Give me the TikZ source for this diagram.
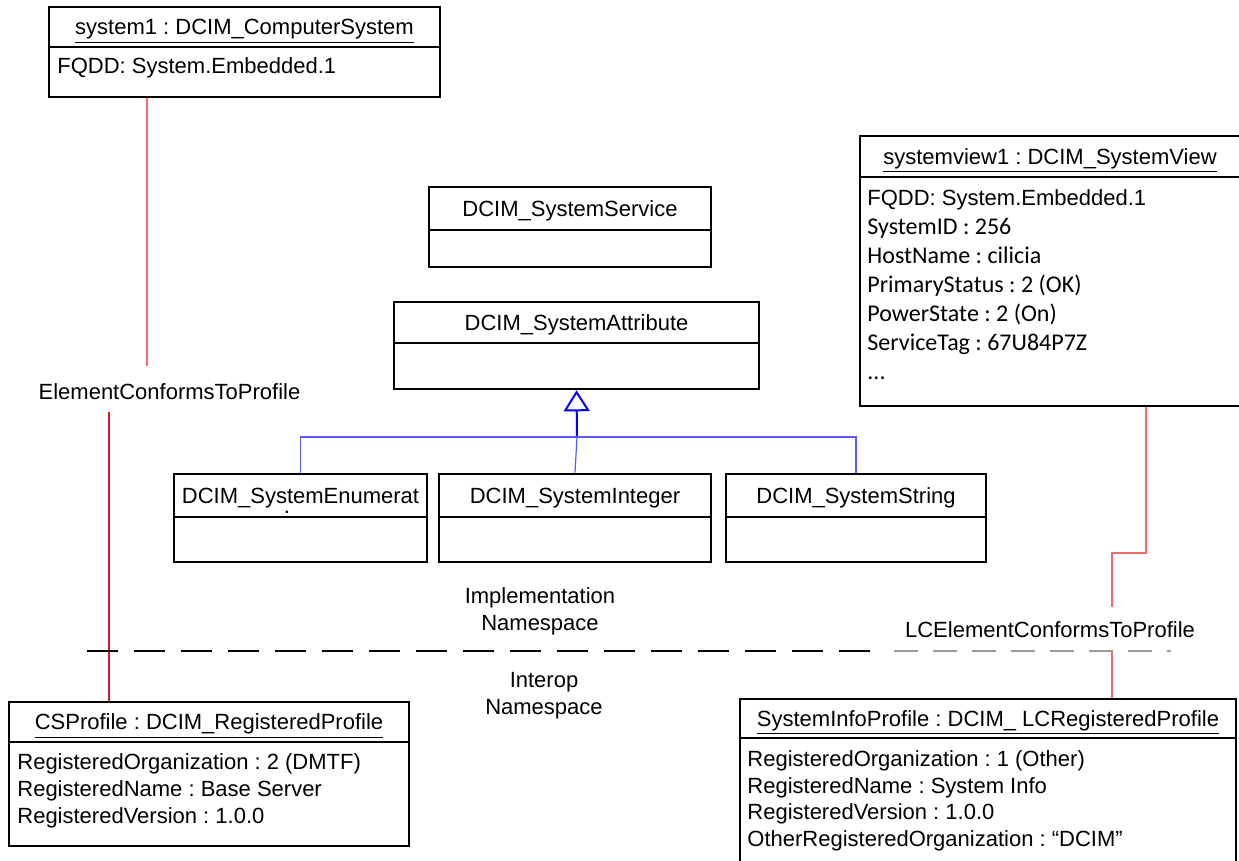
\documentclass[tikz,border=0pt]{standalone}
\usepackage{fontspec}
\setmainfont{Liberation Sans}
\newfontfamily\carlito{Carlito}
\usetikzlibrary{arrows.meta,calc,positioning}
\definecolor{conformLight}{RGB}{250,105,105}
\definecolor{conformDark}{RGB}{215,25,35}
\definecolor{genBlue}{RGB}{0,0,255}
\definecolor{genBranchBlue}{RGB}{90,90,255}
\frenchspacing
\tikzset{
  umlClassHead/.style={draw, line width=1.3pt, inner sep=0pt, text height=7.9pt, text depth=0pt, font=\fontsize{11}{13}\selectfont},
  umlClassBody/.style={draw, line width=1.3pt, inner sep=0pt},
  umlObjHead/.style={draw, line width=0.9pt, inner sep=0pt, text height=7.9pt, text depth=0pt, font=\fontsize{11}{13}\selectfont},
  umlObjBody/.style={draw, line width=0.9pt, inner sep=0pt},
  umlSlots/.style={anchor=north west, align=left, inner sep=0pt, font=\fontsize{11}{13.5}\selectfont},
  umlAssocLabel/.style={inner sep=0pt, text height=7.9pt, text depth=0pt, font=\fontsize{11}{13}\selectfont},
  umlNsLabel/.style={inner sep=0pt, align=center, font=\fontsize{11}{13.5}\selectfont},
  umlConformUp/.style={draw=conformLight, line width=0.6pt},
  umlConformDown/.style={draw=conformDark, line width=0.6pt},
  umlGenArrow/.style={-{Triangle[open, length=10.5pt, width=13pt]}, draw=genBlue, line width=1pt},
  umlGenBranch/.style={draw=genBranchBlue, line width=0.6pt},
  umlNsBorder/.style={draw=black, line width=1pt, dash pattern=on 15.5pt off 8pt},
  umlNsBorderFaint/.style={draw=black!40, line width=0.6pt, dash pattern=on 12pt off 7.5pt}
}
\begin{document}
\begin{tikzpicture}[x=0.5pt, y=-0.5pt]
  \useasboundingbox (0,0) rectangle (1239,861);

  % instances
  \node[umlObjHead, minimum width=195.5pt, minimum height=20pt] (sysHead) at (244.5,27) {\underline{system1 : DCIM\_ComputerSystem}};
  \node[umlObjBody, minimum width=195.5pt, minimum height=25pt] (sysBody) at (244.5,72) {};
  \node[umlSlots] (sysSlots) at (57,57) {FQDD: System.Embedded.1};

  \node[umlObjHead, minimum width=190pt, minimum height=20.5pt] (viewHead) at (1050,156.5) {\underline{systemview1 : DCIM\_SystemView}};
  \node[umlObjBody, minimum width=190pt, minimum height=114.5pt] (viewBody) at (1050,291.5) {};
  \node[umlSlots, font=\carlito\fontsize{12}{14.5}\selectfont] (viewSlots) at (867,189) {{\rmfamily\fontsize{11}{14.5}\selectfont FQDD: System.Embedded.1}\\SystemID : 256\\HostName : cilicia\\PrimaryStatus : 2 (OK)\\PowerState : 2 (On)\\ServiceTag : 67U84P7Z\\...};

  \node[umlObjHead, minimum width=200pt, minimum height=20pt] (csHead) at (209,722) {\underline{CSProfile : DCIM\_RegisteredProfile}};
  \node[umlObjBody, minimum width=200pt, minimum height=52pt] (csBody) at (209,794) {};
  \node[umlSlots] (csSlots) at (17,753) {RegisteredOrganization : 2 (DMTF)\\RegisteredName : Base Server\\RegisteredVersion : 1.0.0};

  \node[umlObjHead, minimum width=248pt, minimum height=19.5pt] (infoHead) at (988,718.5) {\underline{SystemInfoProfile : DCIM\_ LCRegisteredProfile}};
  \node[umlObjBody, minimum width=248pt, minimum height=65pt] (infoBody) at (988,803) {};
  \node[umlSlots, font=\fontsize{11}{13.35}\selectfont] (infoSlots) at (747,750) {RegisteredOrganization : 1 (Other)\\RegisteredName : System Info\\RegisteredVersion : 1.0.0\\OtherRegisteredOrganization : “DCIM”};

  % classes
  \node[umlClassHead, minimum width=141pt, minimum height=21.5pt] (svcHead) at (570,208.5) {DCIM\_SystemService};
  \node[umlClassBody, minimum width=141pt, minimum height=18.5pt] (svcBody) at (570,248.5) {};
  \node[umlClassHead, minimum width=182.5pt, minimum height=20.5pt] (attrHead) at (576.5,322.5) {DCIM\_SystemAttribute};
  \node[umlClassBody, minimum width=182.5pt, minimum height=23pt] (attrBody) at (576.5,366) {};

  \node[umlClassHead, minimum width=126.5pt, minimum height=21.5pt] (enumHead) at (300.5,495.5) {DCIM\_SystemEnumerat};
  \node[umlClassBody, minimum width=126.5pt, minimum height=22.5pt] (enumBody) at (300.5,539.5) {};
  \node[inner sep=0pt, anchor=base, font=\fontsize{11}{13}\selectfont] (enumCut) at (287,514) {.};
  \node[umlClassHead, minimum width=136pt, minimum height=21.5pt] (intHead) at (575,495.5) {DCIM\_SystemInteger};
  \node[umlClassBody, minimum width=136pt, minimum height=22.5pt] (intBody) at (575,539.5) {};
  \node[umlClassHead, minimum width=130pt, minimum height=21.5pt] (strHead) at (856,495.5) {DCIM\_SystemString};
  \node[umlClassBody, minimum width=130pt, minimum height=22.5pt] (strBody) at (856,539.5) {};

  % generalization
  \coordinate (genJoin) at (577,437);
  \draw[umlGenArrow] (genJoin) -- (attrBody.south);
  \draw[umlGenBranch] (enumHead.north) |- (genJoin) -| (strHead.north);
  \draw[umlGenBranch] (intHead.north) -- (genJoin);

  % conformance associations
  \node[umlAssocLabel] (ecpLabel) at (169.5,392) {ElementConformsToProfile};
  \coordinate (ecpUp) at (147,366);
  \coordinate (ecpDown) at (109,412);
  \draw[umlConformUp] (sysBody.south -| ecpUp) -- (ecpUp);
  \draw[umlConformDown] (ecpDown) -- (ecpDown |- csHead.north);

  \node[umlAssocLabel] (lcecpLabel) at (1050,630) {LCElementConformsToProfile};
  \coordinate (lcecpBend) at (1146,553);
  \coordinate (lcecpUp) at (1112,607);
  \coordinate (lcecpDown) at (1112,652);
  \draw[umlConformUp] (viewBody.south -| lcecpBend) -- (lcecpBend) -| (lcecpUp);
  \draw[umlConformUp] (lcecpDown) -- (lcecpDown |- infoHead.north);

  % namespaces
  \node[umlNsLabel] (implNs) at (540,611) {Implementation\\Namespace};
  \node[umlNsLabel] (interopNs) at (544,696) {Interop\\Namespace};
  \coordinate (nsLeft) at (87,651);
  \coordinate (nsMid) at (882,651);
  \coordinate (nsFaint) at (894,651);
  \coordinate (nsRight) at (1171,651);
  \draw[umlNsBorder] (nsLeft) -- (nsMid);
  \draw[umlNsBorderFaint] (nsFaint) -- (nsRight);
\end{tikzpicture}
\end{document}
